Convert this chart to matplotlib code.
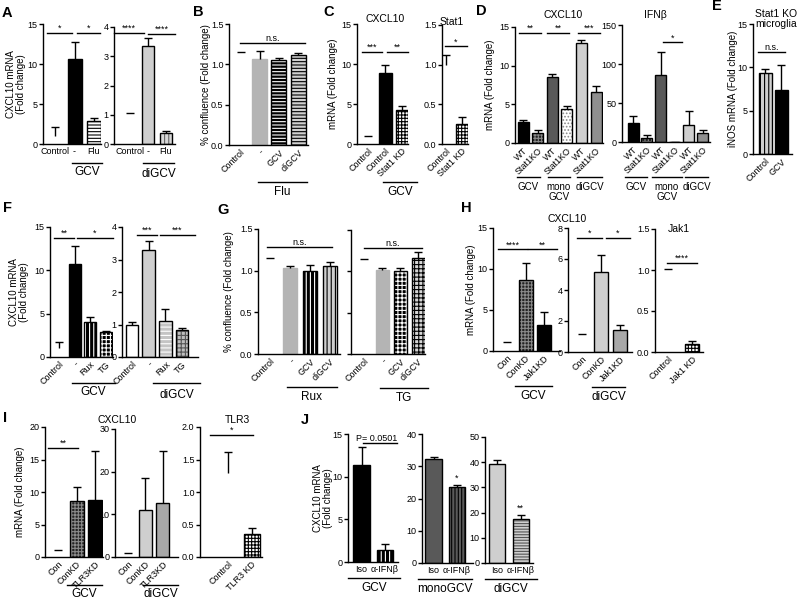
import numpy as np
import matplotlib
matplotlib.use('Agg')
import matplotlib.pyplot as plt
from matplotlib.lines import Line2D

plt.rcParams['font.family'] = ['Liberation Sans', 'DejaVu Sans']
plt.rcParams['hatch.linewidth'] = 0.8

# ---------------- data ----------------
a1_labels = ['Control', '-', 'Flu']
a1_mean = [1.05, 10.6, 2.9]
a1_err = [1.1, 2.1, 0.3]
a2_labels = ['Control', '-', 'Flu']
a2_mean = [1.05, 3.34, 0.39]
a2_err = [0.02, 0.27, 0.07]

b_labels = ['Control', '-', 'GCV', 'diGCV']
b_mean = [1.15, 1.07, 1.05, 1.11]
b_err = [0.0, 0.09, 0.03, 0.03]

c1_labels = ['Control', 'Control', 'Stat1 KD']
c1_mean = [1.0, 8.9, 4.3]
c1_err = [0.0, 1.0, 0.45]
c2_labels = ['Control', 'Stat1 KD']
c2_mean = [1.0, 0.25]
c2_err = [0.12, 0.09]

d_labels = ['WT', 'Stat1KO', 'WT', 'Stat1KO', 'WT', 'Stat1KO']
d1_mean = [2.73, 1.34, 8.58, 4.38, 12.9, 6.55]
d1_err = [0.22, 0.31, 0.35, 0.39, 0.36, 0.82]
d2_mean = [24.4, 5.6, 85.7, 0.0, 21.4, 12.0]
d2_err = [8.6, 3.0, 29.2, 0.0, 18.0, 3.0]

e_labels = ['Control', 'GCV']
e_mean = [9.3, 7.4]
e_err = [0.5, 2.9]

f1_labels = ['Control', '-', 'Rux', 'TG']
f1_mean = [1.0, 10.7, 4.0, 2.85]
f1_err = [0.7, 2.1, 0.65, 0.12]
f2_labels = ['Control', '-', 'Rux', 'TG']
f2_mean = [0.97, 3.3, 1.1, 0.82]
f2_err = [0.1, 0.28, 0.39, 0.08]

g_labels = ['Control', '-', 'GCV', 'diGCV']
g1_mean = [1.15, 1.036, 1.0, 1.06]
g1_err = [0.0, 0.02, 0.07, 0.04]
g2_mean = [1.145, 1.016, 1.0, 1.157]
g2_err = [0.0, 0.028, 0.036, 0.075]

h1_labels = ['Con', 'ConKD', 'Jak1KD']
h1_mean = [1.1, 8.7, 3.13]
h1_err = [0.0, 2.0, 1.63]
h2_labels = ['Con', 'ConKD', 'Jak1KD']
h2_mean = [1.15, 5.16, 1.4]
h2_err = [0.0, 1.12, 0.32]
h3_labels = ['Control', 'Jak1 KD']
h3_mean = [1.01, 0.097]
h3_err = [0.0, 0.043]

i1_labels = ['Con', 'ConKD', 'TLR3KD']
i1_mean = [1.05, 8.6, 8.8]
i1_err = [0.0, 2.1, 7.5]
i2_labels = ['Con', 'ConKD', 'TLR3KD']
i2_mean = [0.9, 11.1, 12.6]
i2_err = [0.0, 7.5, 12.2]
i3_labels = ['Control', 'TLR3 KD']
i3_mean = [1.3, 0.36]
i3_err = [0.32, 0.08]

j_labels = ['Iso', 'α-IFNβ']
j1_mean = [11.4, 1.36]
j1_err = [2.1, 0.75]
j2_mean = [32.2, 23.6]
j2_err = [0.7, 0.5]
j3_mean = [39.2, 17.5]
j3_err = [1.6, 1.6]

# ---------------- styles ----------------
STYLES = {
    'none': ('none', None, None, 'none'),
    'white': ('white', None, None, 'black'),
    'black': ('black', None, None, 'black'),
    'lgray': ('#cfcfcf', None, None, 'black'),
    'gray': ('#b4b4b4', None, None, '#b4b4b4'),
    'mgray': ('#a8a8a8', None, None, 'black'),
    'mgray2': ('#8f8f8f', None, None, 'black'),
    'dgray': ('#595959', None, None, 'black'),
    'hs_w': ('white', 'black', '-----', 'black'),
    'hs_k': ('black', 'white', '-----', 'black'),
    'hs_lg': ('#d0d0d0', 'black', '-----', 'black'),
    'hs_lgw': ('#c4c4c4', 'white', '----', 'black'),
    'hs_lgd': ('#cfcfcf', '#555555', '------', 'black'),
    'vs_lg': ('#d8d8d8', '#666666', '||||', 'black'),
    'vs_k': ('black', 'white', '||||', 'black'),
    'vs_lgk': ('#d0d0d0', 'black', '||||', 'black'),
    'vs_dg': ('#5a5a5a', 'black', '|||||', 'black'),
    'chk': ('white', 'black', '+++++', 'black'),
    'chk_d': ('#222222', '#8a8a8a', '+++++', 'black'),
    'dots': ('white', '#888888', '.....', 'black'),
    'grid_k': ('black', 'white', '++++', 'black'),
    'grid_g': ('#bdbdbd', '#555555', '++++', 'black'),
    'grid_lg': ('#d6d6d6', 'black', '++++', 'black'),
}

W, H = 800, 606
fig = plt.figure(figsize=(8, 6.06), dpi=100)
FS = 6.5


def draw(geo, labels, mean, err, styles, yticks, ytl=None, rot=True, show_yl=True):
    x0, x1, yt, yb, ymax, c0, step, bw = geo
    ax = fig.add_axes([x0 / W, 1 - yb / H, (x1 - x0) / W, (yb - yt) / H])
    ax.set_xlim((x0 - c0) / step, (x1 - c0) / step)
    ax.set_ylim(0, ymax)
    pos = np.arange(len(mean))
    w = bw / step
    for p, m, s in zip(pos, mean, styles):
        fc, hc, hatch, ec = STYLES[s]
        if hatch:
            ax.bar(p, m, w, color=fc, edgecolor=hc, hatch=hatch, linewidth=0)
            ax.bar(p, m, w, fill=False, edgecolor=ec, linewidth=1)
        else:
            ax.bar(p, m, w, color=fc, edgecolor=ec, linewidth=1)
    top = np.array(mean) + np.array(err)
    cap = 4 / step
    ax.vlines(pos, mean, top, color='k', lw=1)
    ax.hlines(top, pos - cap, pos + cap, color='k', lw=1)
    for sp in ['top', 'right']:
        ax.spines[sp].set_visible(False)
    for sp in ['left', 'bottom']:
        ax.spines[sp].set_linewidth(1)
    ax.set_yticks(yticks)
    if ytl is not None:
        ax.set_yticklabels(ytl)
    if not show_yl:
        ax.set_yticklabels([])
    ax.tick_params(axis='y', length=3, width=1, pad=1, labelsize=FS)
    ax.tick_params(axis='x', length=0, pad=2, labelsize=FS)
    if rot:
        ax.set_xticks(pos, labels, rotation=45, ha='right', rotation_mode='anchor')
    else:
        ax.set_xticks(pos, labels)
    return ax


def sig(ax, geo, x1p, x2p, y, txt, line=True):
    c0, step = geo[5], geo[6]
    xa, xb = (x1p - c0) / step, (x2p - c0) / step
    if line:
        ax.plot([xa, xb], [y, y], color='k', lw=1, clip_on=False)
    ax.annotate(txt, ((xa + xb) / 2, y), xytext=(0, 1.5), textcoords='offset points',
                ha='center', va='baseline', fontsize=FS, annotation_clip=False)


def group(x1p, x2p, yp, txt, typ, fs=8.5):
    fig.add_artist(Line2D([x1p / W, x2p / W], [1 - yp / H] * 2, color='k', lw=1))
    fig.text((x1p + x2p) / 2 / W, 1 - typ / H, txt, ha='center', va='center',
             fontsize=fs, linespacing=1.0)


def ftext(x, y, txt, fs=7.5, **kw):
    fig.text(x / W, 1 - y / H, txt, ha='center', va='center', fontsize=fs, **kw)


def ylab(x, yt, yb, txt):
    fig.text(x / W, 1 - (yt + yb) / 2 / H, txt, rotation=90, ha='center', va='center',
             fontsize=7, multialignment='center', linespacing=1.1)


def letter(x, y, txt):
    fig.text(x / W, 1 - y / H, txt, ha='left', va='center', fontsize=10.5, fontweight='bold')


dec = lambda t: ['%.1f' % v for v in t]

# ---------------- A ----------------
gA1 = (43, 101, 24, 144, 15, 55, 19.5, 14)
ax = draw(gA1, a1_labels, a1_mean, a1_err, ['none', 'black', 'hs_w'], [0, 5, 10, 15], rot=False)
sig(ax, gA1, 47, 72, 13.9, '*')
sig(ax, gA1, 77, 100, 13.9, '*')
gA2 = (114, 175, 26.7, 144.3, 4, 130, 18, 12.5)
ax = draw(gA2, a2_labels, a2_mean, a2_err, ['none', 'lgray', 'vs_lg'], [0, 1, 2, 3, 4], rot=False)
sig(ax, gA2, 114, 144, 3.78, '****')
sig(ax, gA2, 148, 175, 3.75, '****')
group(72, 102, 163, 'GCV', 172)
group(143, 174, 163, 'diGCV', 174)
ylab(16, 24, 144, 'CXCL10 mRNA\n(Fold change)')
letter(2, 13, 'A')

# ---------------- B ----------------
gB = (229, 308, 24, 145, 1.5, 240.5, 19.2, 15)
ax = draw(gB, b_labels, b_mean, b_err, ['none', 'gray', 'hs_k', 'hs_lg'], [0, 0.5, 1.0, 1.5],
          ytl=dec([0, 0.5, 1.0, 1.5]))
sig(ax, gB, 240, 305, 1.26, 'n.s.')
group(258, 307, 182, 'Flu', 192)
ylab(206, 24, 145, '% confluence (Fold change)')
letter(193, 12, 'B')

# ---------------- C ----------------
gC1 = (357, 408, 24, 144, 15, 368, 17, 13)
ax = draw(gC1, c1_labels, c1_mean, c1_err, ['none', 'black', 'chk'], [0, 5, 10, 15])
sig(ax, gC1, 362, 382, 11.5, '***')
sig(ax, gC1, 387, 408, 11.5, '**')
gC2 = (442, 468, 25, 144, 1.5, 446, 16, 12)
ax = draw(gC2, c2_labels, c2_mean, c2_err, ['none', 'chk'], [0, 0.5, 1.0, 1.5],
          ytl=dec([0, 0.5, 1.0, 1.5]))
sig(ax, gC2, 445, 467, 1.23, '*')
group(383, 417, 182, 'GCV', 192)
ftext(385, 19, 'CXCL10')
ftext(452, 22, 'Stat1')
ylab(333, 24, 144, 'mRNA (Fold change)')
letter(323, 12, 'C')

# ---------------- D ----------------
d_styles = ['black', 'chk_d', 'dgray', 'dots', 'lgray', 'mgray2']
gD1 = (515, 603, 27, 143, 15, 523, 14.6, 11)
ax = draw(gD1, d_labels, d1_mean, d1_err, d_styles, [0, 5, 10, 15])
sig(ax, gD1, 519, 541, 14.2, '**')
sig(ax, gD1, 547, 569, 14.2, '**')
sig(ax, gD1, 578, 600, 14.2, '***')
gD2 = (622, 710, 25, 142, 150, 633, 13.9, 11)
ax = draw(gD2, d_labels, d2_mean, d2_err, d_styles, [0, 50, 100, 150])
sig(ax, gD2, 663, 682, 127.7, '*')
for xa, xb, t in [(517, 540, 'GCV'), (548, 570, 'mono\nGCV'), (577, 602, 'diGCV'),
                  (625, 647, 'GCV'), (652, 682, 'mono\nGCV'), (685, 708, 'diGCV')]:
    fig.add_artist(Line2D([xa / W, xb / W], [1 - 177 / H] * 2, color='k', lw=1))
    fig.text((xa + xb) / 2 / W, 1 - 182 / H, t, ha='center', va='top', fontsize=7,
             linespacing=1.0)
ftext(563, 15, 'CXCL10')
ftext(655, 15, 'IFNβ')
ylab(490, 27, 143, 'mRNA (Fold change)')
letter(476, 11, 'D')

# ---------------- E ----------------
gE = (753, 792, 24, 154, 15, 765, 16, 13)
ax = draw(gE, e_labels, e_mean, e_err, ['vs_lgk', 'black'], [0, 5, 10, 15])
sig(ax, gE, 758, 785, 11.8, 'n.s.')
ftext(776, 19, 'Stat1 KO\nmicroglia', linespacing=1.1)
ylab(733, 24, 154, 'iNOS mRNA (Fold change)')
letter(712, 6, 'E')

# ---------------- F ----------------
gF1 = (50, 113, 227, 357, 15, 59, 15.5, 12)
ax = draw(gF1, f1_labels, f1_mean, f1_err, ['none', 'black', 'vs_k', 'grid_k'], [0, 5, 10, 15])
sig(ax, gF1, 54, 74, 13.7, '**')
sig(ax, gF1, 77, 113, 13.7, '*')
gF2 = (122, 198, 227, 357, 4, 132, 16.7, 12.5)
ax = draw(gF2, f2_labels, f2_mean, f2_err, ['white', 'lgray', 'hs_lgw', 'grid_g'], [0, 1, 2, 3, 4])
sig(ax, gF2, 137, 157, 3.75, '***')
sig(ax, gF2, 160, 195, 3.75, '***')
group(72, 115, 383, 'GCV', 392)
group(153, 200, 383, 'diGCV', 395)
ylab(19, 227, 357, 'CXCL10 mRNA\n(Fold change)')
letter(3, 208, 'F')

# ---------------- G ----------------
gG1 = (258, 340, 229, 354, 1.5, 270, 20, 14)
ax = draw(gG1, g_labels, g1_mean, g1_err, ['none', 'gray', 'vs_k', 'vs_lgk'], [0, 0.5, 1.0, 1.5],
          ytl=dec([0, 0.5, 1.0, 1.5]))
sig(ax, gG1, 267, 332, 1.28, 'n.s.')
gG2 = (351, 425, 230, 354, 1.5, 364, 18, 13)
ax = draw(gG2, g_labels, g2_mean, g2_err, ['none', 'gray', 'grid_k', 'grid_lg'], [0, 0.5, 1.0, 1.5],
          show_yl=False)
sig(ax, gG2, 364, 422, 1.28, 'n.s.')
group(287, 337, 387, 'Rux', 397)
group(380, 428, 388, 'TG', 398)
ylab(229, 229, 354, '% confluence (Fold change)')
letter(217, 210, 'G')

# ---------------- H ----------------
gH1 = (493, 560, 228, 351, 15, 507, 18.5, 14)
ax = draw(gH1, h1_labels, h1_mean, h1_err, ['none', 'chk_d', 'black'], [0, 5, 10, 15])
sig(ax, gH1, 498, 527, 12.4, '****')
sig(ax, gH1, 528, 557, 12.4, '**')
gH2 = (568, 632, 228, 352, 8, 582, 19, 14)
ax = draw(gH2, h2_labels, h2_mean, h2_err, ['none', 'lgray', 'mgray'], [0, 2, 4, 6, 8])
sig(ax, gH2, 577, 602, 7.35, '*')
sig(ax, gH2, 606, 630, 7.35, '*')
gH3 = (655, 703, 229, 352, 1.5, 668, 24, 14)
ax = draw(gH3, h3_labels, h3_mean, h3_err, ['none', 'chk'], [0, 0.5, 1.0, 1.5],
          ytl=dec([0, 0.5, 1.0, 1.5]))
sig(ax, gH3, 667, 697, 1.09, '****')
group(515, 552, 386, 'GCV', 396)
group(592, 625, 387, 'diGCV', 397)
ftext(567, 219, 'CXCL10')
ftext(679, 229, 'Jak1')
ylab(471, 228, 351, 'mRNA (Fold change)')
letter(461, 208, 'H')

# ---------------- I ----------------
gI1 = (45, 103, 427, 557, 20, 58, 18.5, 14)
ax = draw(gI1, i1_labels, i1_mean, i1_err, ['none', 'chk_d', 'black'], [0, 5, 10, 15, 20])
sig(ax, gI1, 48, 78, 16.8, '**')
gI2 = (115, 178, 429, 557, 30, 128, 17.5, 13)
ax = draw(gI2, i2_labels, i2_mean, i2_err, ['none', 'lgray', 'mgray'], [0, 10, 20, 30])
gI3 = (200, 262, 427, 557, 2.0, 228, 23.5, 16)
ax = draw(gI3, i3_labels, i3_mean, i3_err, ['none', 'chk'], [0, 0.5, 1.0, 1.5, 2.0],
          ytl=dec([0, 0.5, 1.0, 1.5, 2.0]))
sig(ax, gI3, 210, 253, 1.88, '*')
group(67, 102, 585, 'GCV', 594)
group(143, 178, 585, 'diGCV', 594)
ftext(117, 420, 'CXCL10')
ftext(237, 420, 'TLR3')
ylab(20, 427, 557, 'mRNA (Fold change)')
letter(3, 418, 'I')

# ---------------- J ----------------
gJ1 = (348, 398, 434, 562, 15, 361.5, 23.5, 16.5)
ax = draw(gJ1, j_labels, j1_mean, j1_err, ['black', 'vs_k'], [0, 5, 10, 15], rot=False)
ax.plot([(363 - 361.5) / 23.5, (397 - 361.5) / 23.5], [13.95, 13.95], color='k', lw=1, clip_on=False)
ax.text((377 - 361.5) / 23.5, 14.0, 'P= 0.0501', ha='center', va='bottom', fontsize=FS, clip_on=False)
gJ2 = (422, 473, 434, 563, 40, 433.5, 23.5, 16.5)
ax = draw(gJ2, j_labels, j2_mean, j2_err, ['dgray', 'vs_dg'], [0, 10, 20, 30, 40], rot=False)
sig(ax, gJ2, 457, 457, 25.0, '*', line=False)
gJ3 = (485, 533, 437, 563, 50, 497, 23.5, 16)
ax = draw(gJ3, j_labels, j3_mean, j3_err, ['lgray', 'hs_lgd'], [0, 10, 20, 30, 40, 50], rot=False)
sig(ax, gJ3, 520.5, 520.5, 20.0, '**', line=False)
group(348, 400, 578, 'GCV', 588)
group(418, 472, 579, 'monoGCV', 589)
group(485, 537, 579, 'diGCV', 589)
ylab(323, 434, 562, 'CXCL10 mRNA\n(Fold change)')
letter(301, 420, 'J')

fig.savefig('out.png', dpi=100)
